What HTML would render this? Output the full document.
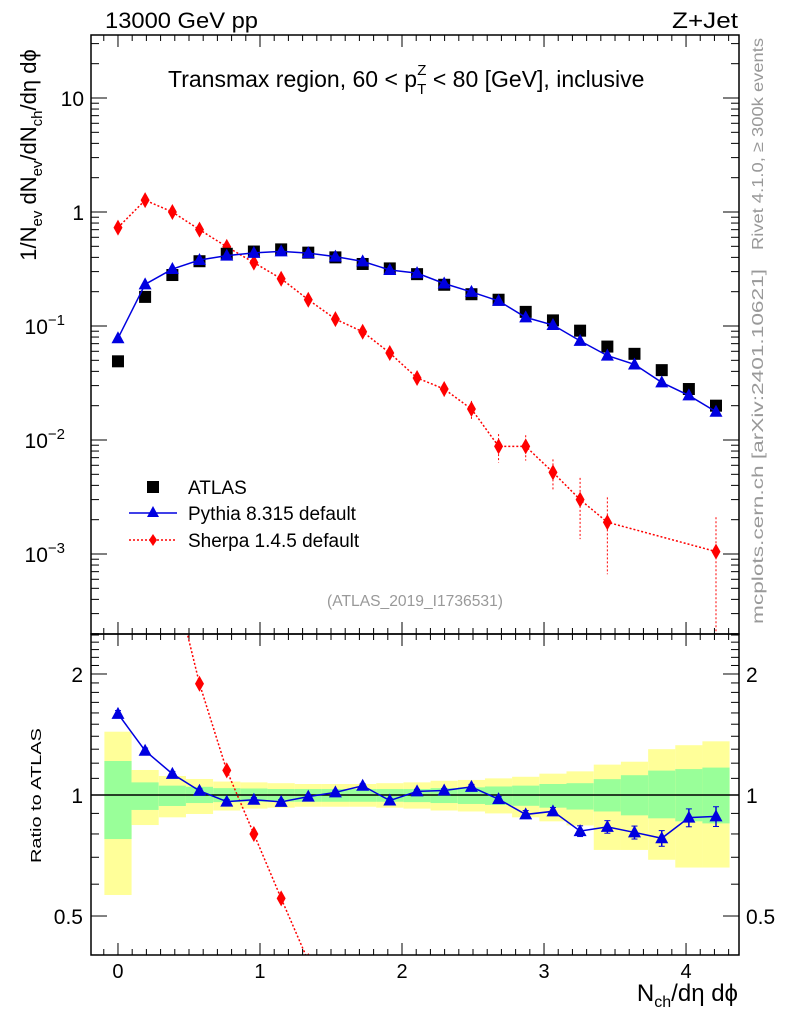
<!DOCTYPE html>
<html><head><meta charset="utf-8"><style>
html,body{margin:0;padding:0;background:#fff;overflow:hidden;width:786px;height:1024px;}
svg{display:block;font-family:"Liberation Sans",Arial,sans-serif;}
</style></head><body>
<svg id="chart" width="786" height="1024" viewBox="0 0 786 1024" xmlns="http://www.w3.org/2000/svg">
<defs>
<clipPath id="clipMain"><rect x="91" y="35" width="648" height="599"/></clipPath>
<clipPath id="clipRatio"><rect x="91" y="634" width="648" height="321"/></clipPath>
</defs>
<g id="bands" clip-path="url(#clipRatio)"></g>
<g id="grid"></g>
<g id="marks"></g>
<rect x="91" y="35" width="648" height="599" fill="none" stroke="#000" stroke-width="1.5"/>
<rect x="91" y="634" width="648" height="321" fill="none" stroke="#000" stroke-width="1.5"/>
<text x="105" y="28" font-size="22" textLength="153" lengthAdjust="spacingAndGlyphs">13000 GeV pp</text>
<text x="672" y="28" font-size="22" textLength="66" lengthAdjust="spacingAndGlyphs">Z+Jet</text>
<text x="168" y="87" font-size="23">Transmax region, 60 &lt; p<tspan font-size="15" dy="7">T</tspan><tspan font-size="15" dx="-9" dy="-19">Z</tspan><tspan dy="12"> &lt; 80 [GeV], inclusive</tspan></text>
<text transform="translate(36,155) rotate(-90)" font-size="22" text-anchor="middle">1/N<tspan font-size="15" dy="6">ev</tspan><tspan dy="-6"> dN</tspan><tspan font-size="15" dy="6">ev</tspan><tspan dy="-6">/dN</tspan><tspan font-size="15" dy="6">ch</tspan><tspan dy="-6">/dη dϕ</tspan></text>
<text transform="translate(41,863) rotate(-90)" font-size="15" textLength="135" lengthAdjust="spacingAndGlyphs">Ratio to ATLAS</text>
<text x="738" y="1001" font-size="24" text-anchor="end">N<tspan font-size="16" dy="6">ch</tspan><tspan dy="-6">/dη dϕ</tspan></text>
<text transform="translate(763,250) rotate(-90)" font-size="16" fill="#999" textLength="212" lengthAdjust="spacingAndGlyphs">Rivet 4.1.0, ≥ 300k events</text>
<text transform="translate(763,624) rotate(-90)" font-size="16" fill="#999" textLength="355" lengthAdjust="spacingAndGlyphs">mcplots.cern.ch [arXiv:2401.10621]</text>
<text x="327" y="606" font-size="16" fill="#999" textLength="176" lengthAdjust="spacingAndGlyphs">(ATLAS_2019_I1736531)</text>
<g>
<rect x="147" y="481" width="12" height="12" fill="#000"/>
<text x="188" y="494" font-size="19">ATLAS</text>
<line x1="129" y1="513" x2="177" y2="513" stroke="#0000e0" stroke-width="1.5"/>
<polygon points="153,506 159,517 147,517" fill="#0000e0"/>
<text x="188" y="520" font-size="19">Pythia 8.315 default</text>
<line x1="129" y1="540" x2="177" y2="540" stroke="#f00" stroke-width="1.5" stroke-dasharray="2,2"/>
<polygon points="153,534 157,540 153,546 149,540" fill="#f00"/>
<text x="188" y="547" font-size="19">Sherpa 1.4.5 default</text>
</g>
</svg>
<script>
const xCenters = [0,0.191,0.383,0.574,0.766,0.957,1.149,1.34,1.531,1.723,1.914,2.106,2.297,2.489,2.68,2.871,3.063,3.254,3.446,3.637,3.829,4.02,4.211];
const atlas = [0.049,0.18,0.28,0.37,0.43,0.45,0.47,0.44,0.40,0.35,0.32,0.285,0.23,0.19,0.17,0.133,0.112,0.091,0.066,0.057,0.041,0.028,0.020];
const pythia = [0.078,0.232,0.316,0.379,0.414,0.438,0.452,0.436,0.406,0.369,0.31,0.291,0.236,0.199,0.166,0.119,0.102,0.074,0.055,0.046,0.032,0.0246,0.0177];
const sherpa = [0.73,1.27,1.0,0.70,0.495,0.36,0.26,0.17,0.115,0.089,0.058,0.035,0.028,0.0187,0.0088,0.0088,0.0052,0.003,0.0019,null,null,null,0.00105];
const sherpaErr = [0.04,0.04,0.04,0.04,0.05,0.05,0.06,0.06,0.07,0.08,0.09,0.12,0.14,0.18,0.28,0.25,0.3,0.55,0.65,0,0,0,1.0];
const pythiaRatioErr = [0.03,0.02,0.015,0.012,0.012,0.012,0.012,0.012,0.012,0.012,0.012,0.012,0.012,0.015,0.015,0.02,0.02,0.025,0.03,0.03,0.035,0.045,0.05];
const greenUp = [0.215,0.075,0.055,0.048,0.04,0.038,0.035,0.035,0.035,0.035,0.035,0.035,0.04,0.045,0.05,0.055,0.065,0.07,0.095,0.12,0.15,0.16,0.17];
const greenDn = [0.223,0.082,0.061,0.045,0.04,0.038,0.038,0.038,0.038,0.038,0.038,0.04,0.045,0.05,0.055,0.06,0.07,0.08,0.09,0.11,0.125,0.14,0.15];
const yellowUp = [0.437,0.154,0.115,0.096,0.08,0.075,0.07,0.065,0.065,0.065,0.07,0.075,0.085,0.09,0.1,0.11,0.13,0.145,0.19,0.21,0.3,0.33,0.36];
const yellowDn = [0.436,0.158,0.12,0.103,0.085,0.075,0.07,0.065,0.065,0.065,0.07,0.075,0.085,0.09,0.1,0.12,0.14,0.16,0.27,0.27,0.31,0.34,0.34];
const xTickLabels = [0,1,2,3,4];
const ratioTickLabels = [0.5,1,2];

const NS='http://www.w3.org/2000/svg';
const X0=91,X1=739,XMIN=-0.190,XMAX=4.373;
const sx=v=>X0+(v-XMIN)/(XMAX-XMIN)*(X1-X0);
const sy=v=>212-114*Math.log10(v);
const ry=v=>795-402*Math.log10(v);
const HW=0.0957;
function mk(tag,attrs,parent){const e=document.createElementNS(NS,tag);for(const k in attrs)e.setAttribute(k,attrs[k]);parent.appendChild(e);return e;}
const bands=document.getElementById('bands'),grid=document.getElementById('grid'),marks=document.getElementById('marks');

xCenters.forEach((c,i)=>{
  const y=mk('rect',{x:sx(c-HW),width:sx(c+HW)-sx(c-HW),y:ry(1+yellowUp[i]),height:ry(1-yellowDn[i])-ry(1+yellowUp[i]),fill:'#ffff99'},bands);
  
  
  const g=mk('rect',{x:sx(c-HW),width:sx(c+HW)-sx(c-HW),y:ry(1+greenUp[i]),height:ry(1-greenDn[i])-ry(1+greenUp[i]),fill:'#99ff99'},bands);
  
  
});
mk('line',{x1:X0,x2:X1,y1:ry(1),y2:ry(1),stroke:'#000','stroke-width':1.5},grid);

for(let k=-1;k<=43;k++){const v=k/10;if(v<XMIN||v>XMAX)continue;const x=sx(v);const major=k%10===0;const L=major?12:6;
  [[35,35+L],[634,634-L],[634,634+L],[955,955-L]].forEach(p=>mk('line',{x1:x,x2:x,y1:p[0],y2:p[1],stroke:'#000','stroke-width':1},grid));}
xTickLabels.forEach(v=>{const t=mk('text',{x:sx(v),y:978,'font-size':20,'text-anchor':'middle'},grid);t.textContent=v;
  
  });
for(let d=-4;d<=1;d++){for(let m=1;m<=9;m++){const v=m*Math.pow(10,d);const y=sy(v);if(y<35||y>634)continue;const L=m===1?16:8;
  mk('line',{x1:X0,x2:X0+L,y1:y,y2:y,stroke:'#000'},grid);mk('line',{x1:X1,x2:X1-L,y1:y,y2:y,stroke:'#000'},grid);}}
const ylab=[[10,'10',''],[1,'1',''],[0.1,'10','−1'],[0.01,'10','−2'],[0.001,'10','−3']];
ylab.forEach(l=>{const t=mk('text',{x:l[2]?65:84,y:sy(l[0])+8,'font-size':21,'text-anchor':'end'},grid);t.textContent=l[1];
  if(l[2]){const s=mk('tspan',{'font-size':15,dy:-9},t);s.textContent=l[2];}
  
  });
for(let v=0.4;v<=2.55;v+=0.1){const y=ry(v);if(y<634||y>955)continue;const major=Math.abs(v-0.5)<1e-6||Math.abs(v-1)<1e-6||Math.abs(v-2)<1e-6;const L=major?16:8;
  mk('line',{x1:X0,x2:X0+L,y1:y,y2:y,stroke:'#000'},grid);mk('line',{x1:X1,x2:X1-L,y1:y,y2:y,stroke:'#000'},grid);}
ratioTickLabels.forEach(v=>{const t=mk('text',{x:83,y:ry(v)+8,'font-size':21,'text-anchor':'end'},grid);t.textContent=v;
  
  
  const t2=mk('text',{x:746,y:ry(v)+8,'font-size':21},grid);t2.textContent=v;
  
  });

const gm=mk('g',{'clip-path':'url(#clipMain)'},marks);
const gr=mk('g',{'clip-path':'url(#clipRatio)'},marks);
function tri(g,x,y,col){return mk('polygon',{points:`${x},${y-7} ${x+6.5},${y+5} ${x-6.5},${y+5}`,fill:col},g);}
function dia(g,x,y){return mk('polygon',{points:`${x},${y-8} ${x+4.5},${y} ${x},${y+8} ${x-4.5},${y}`,fill:'#f00'},g);}
let pts=[];xCenters.forEach((c,i)=>{if(sherpa[i]!=null)pts.push([sx(c),sy(sherpa[i]),i]);});
const sl=mk('polyline',{points:pts.map(p=>p[0]+','+p[1]).join(' '),fill:'none',stroke:'#f00','stroke-width':1.5,'stroke-dasharray':'2,2'},gm);


pts.forEach(p=>{const i=p[2],e=sherpaErr[i];const lo=Math.max(sherpa[i]*(1-e),1e-5);
  mk('line',{x1:p[0],x2:p[0],y1:sy(sherpa[i]*(1+e)),y2:sy(lo),stroke:'#f00','stroke-dasharray':'2,2'},gm);
  const d=dia(gm,p[0],p[1]);});
xCenters.forEach((c,i)=>{const r=mk('rect',{x:sx(c)-6,y:sy(atlas[i])-6,width:12,height:12,fill:'#000'},gm);
  
  });
const pl=mk('polyline',{points:xCenters.map((c,i)=>sx(c)+','+sy(pythia[i])).join(' '),fill:'none',stroke:'#0000e0','stroke-width':1.5},gm);


xCenters.forEach((c,i)=>{const t=tri(gm,sx(c),sy(pythia[i]),'#0000e0');});

const sr=pts.map(p=>[p[0],ry(sherpa[p[2]]/atlas[p[2]]),p[2]]);
const srl=mk('polyline',{points:sr.map(p=>p[0]+','+p[1]).join(' '),fill:'none',stroke:'#f00','stroke-width':1.5,'stroke-dasharray':'2,2'},gr);


sr.forEach(p=>{const d=dia(gr,p[0],p[1]);});
const prl=mk('polyline',{points:xCenters.map((c,i)=>sx(c)+','+ry(pythia[i]/atlas[i])).join(' '),fill:'none',stroke:'#0000e0','stroke-width':1.5},gr);


xCenters.forEach((c,i)=>{const r=pythia[i]/atlas[i],e=pythiaRatioErr[i],x=sx(c);
  mk('line',{x1:x,x2:x,y1:ry(r+e),y2:ry(r-e),stroke:'#0000e0','stroke-width':1.5},gr);
  mk('line',{x1:x-3,x2:x+3,y1:ry(r+e),y2:ry(r+e),stroke:'#0000e0'},gr);
  mk('line',{x1:x-3,x2:x+3,y1:ry(r-e),y2:ry(r-e),stroke:'#0000e0'},gr);
  const t=tri(gr,x,ry(r),'#0000e0');});
</script>
</body></html>
